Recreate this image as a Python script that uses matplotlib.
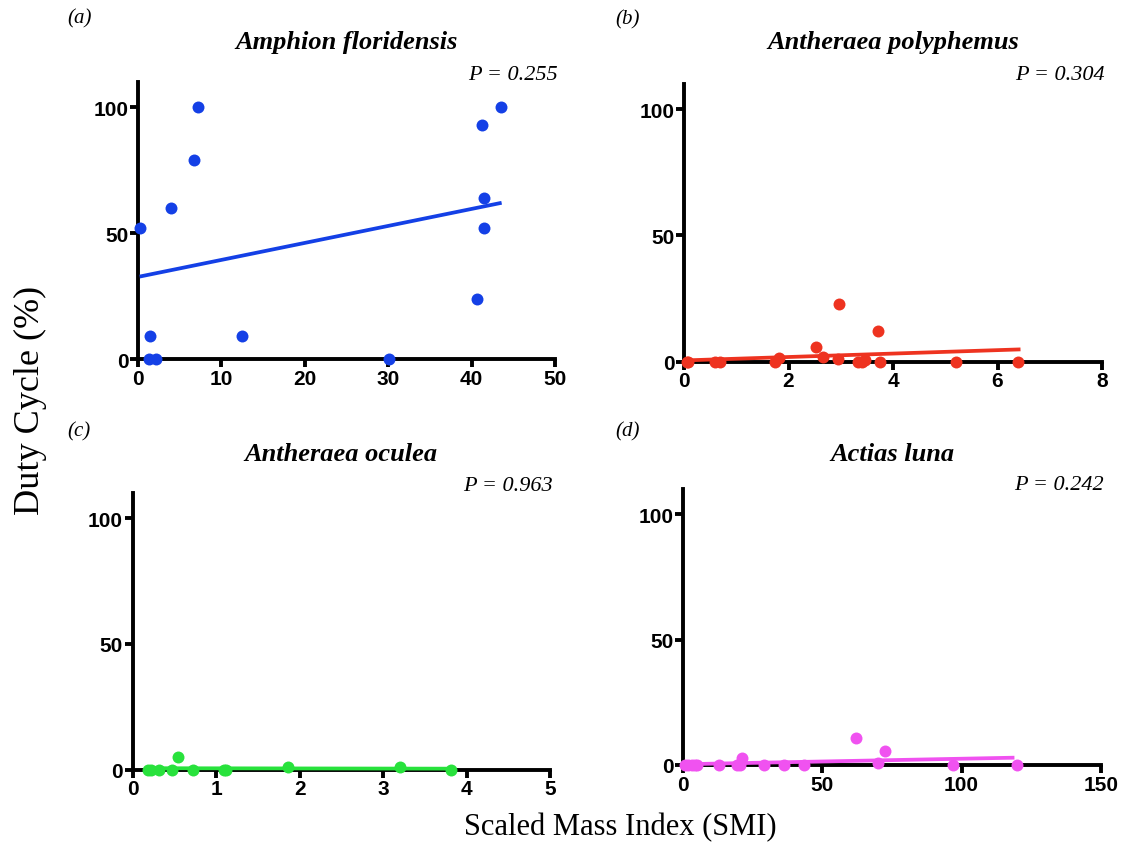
import numpy as np
import matplotlib
matplotlib.use("Agg")
import matplotlib.pyplot as plt

W, H = 1121, 854

# data
titles = ["Amphion floridensis", "Antheraea polyphemus", "Antheraea oculea", "Actias luna"]
letters = ["(a)", "(b)", "(c)", "(d)"]
p_values = ["P = 0.255", "P = 0.304", "P = 0.963", "P = 0.242"]
colors = ["#1440E6", "#EE3320", "#28E23C", "#F052F0"]

smi_a = [0.2, 1.4, 1.3, 2.1, 4.0, 6.7, 7.2, 12.5, 30.1, 40.6, 41.3, 41.5, 41.5, 43.5]
duty_a = [52, 9, 0, 0, 60, 79, 100, 9, 0, 24, 93, 64, 52, 100]

smi_b = [0.05, 0.08, 0.59, 0.69, 1.74, 1.82, 2.53, 2.66, 2.96, 2.94, 3.33, 3.40, 3.47, 3.72, 3.75, 5.21, 6.40]
duty_b = [0, 0, 0, 0, 0, 1.3, 6, 2, 23, 1, 0, 0, 0.5, 12, 0, 0, 0]

smi_c = [0.18, 0.22, 0.32, 0.47, 0.54, 0.72, 1.09, 1.12, 1.86, 3.20, 3.81]
duty_c = [0, 0, 0, 0, 4.9, 0, 0, 0, 0.9, 0.9, 0]

smi_d = [0.6, 1.8, 3.0, 4.2, 5.0, 12.8, 19.4, 20.4, 21.0, 29.0, 36.2, 43.4, 62.0, 70.1, 72.5, 96.8, 120.0]
duty_d = [0, 0, 0, 0, 0, 0, 0, 0, 2.6, 0, 0, 0, 10.7, 0.8, 5.7, 0, 0]

# regression lines as drawn (intercept, slope, x start, x end)
fit_intercept = [32.6, 0.5, 0.6, 0.3]
fit_slope = [0.675, 0.68, -0.05, 0.022]
fit_x0 = [0.2, 0.0, 0.18, 0.0]
fit_x1 = [43.6, 6.44, 3.86, 119.0]

x_max = [50, 8, 5, 150]
x_ticks = [[0, 10, 20, 30, 40, 50], [0, 2, 4, 6, 8], [0, 1, 2, 3, 4, 5], [0, 50, 100, 150]]
y_ticks = [0, 50, 100]

smi = [smi_a, smi_b, smi_c, smi_d]
duty = [duty_a, duty_b, duty_c, duty_d]

# axes boxes in pixels: left, right, top, bottom(y=0)
boxes = [(138, 555, 83, 360), (684, 1102, 85, 362.7),
         (132.7, 550, 494, 770.7), (683.3, 1100.7, 490, 766)]
letter_pos = [(67, 19), (615, 20), (67, 432), (615, 432)]
title_y = [42, 43, 455, 455]
p_y = [75, 76, 487, 486]

sans = "Liberation Sans"
serif = "Liberation Serif"

fig = plt.figure(figsize=(W / 100, H / 100), dpi=100)

def fx(x):
    return x / W

def fy(y):
    return 1 - y / H

for i in range(4):
    l, r, t, b = boxes[i]
    ax = fig.add_axes([fx(l), fy(b), (r - l) / W, (b - t) / H])
    ax.set_xlim(0, x_max[i])
    ax.set_ylim(0, 110)
    ax.spines["top"].set_visible(False)
    ax.spines["right"].set_visible(False)
    for s in ["left", "bottom"]:
        ax.spines[s].set_linewidth(2.8)
    ax.set_xticks(x_ticks[i])
    ax.set_yticks(y_ticks)
    ax.tick_params(length=6, width=2.8, direction="out", pad=1)
    for lab in ax.get_xticklabels() + ax.get_yticklabels():
        lab.set_fontfamily(sans)
        lab.set_fontweight("bold")
        lab.set_fontsize(15)

    xs = np.linspace(fit_x0[i], fit_x1[i], 2)
    ax.plot(xs, fit_intercept[i] + fit_slope[i] * xs, color=colors[i], lw=2.7,
            solid_capstyle="butt", clip_on=False, zorder=3)
    ax.plot(smi[i], duty[i], "o", color=colors[i], ms=8.6, mec="none",
            clip_on=False, zorder=4)

    cx = (l + r) / 2
    fig.text(fx(cx), fy(title_y[i]), titles[i], family=serif, weight="bold",
             style="italic", fontsize=19, ha="center", va="center")
    fig.text(fx(r + 3), fy(p_y[i]), p_values[i], family=serif, style="italic",
             fontsize=16, ha="right", va="center")
    fig.text(fx(letter_pos[i][0]), fy(letter_pos[i][1]), letters[i], family=serif,
             style="italic", fontsize=15, ha="left", va="center")

fig.text(fx(30), fy(400), "Duty Cycle (%)", family=serif, fontsize=26,
         rotation=90, ha="center", va="center")
fig.text(fx(620), fy(828), "Scaled Mass Index (SMI)", family=serif,
         fontsize=22, ha="center", va="center")

fig.savefig("out.png", dpi=100)
